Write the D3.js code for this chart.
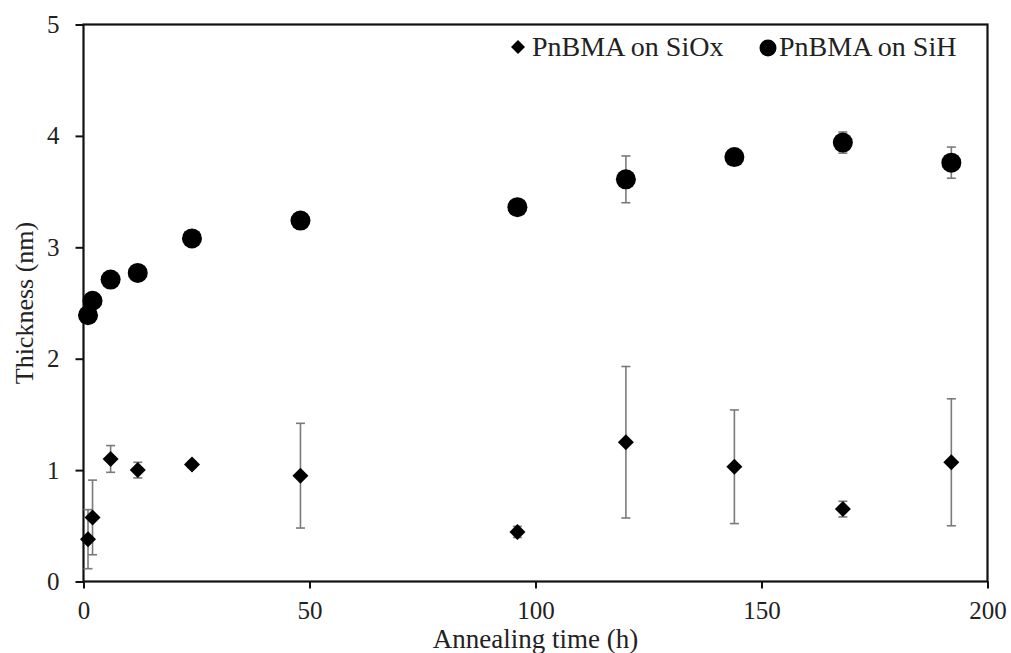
<!DOCTYPE html>
<html>
<head>
<meta charset="utf-8">
<script src="https://cdnjs.cloudflare.com/ajax/libs/d3/7.8.5/d3.min.js"></script>
<style>
	body { margin: 0; background: #fff; }
	text { font-family: "Liberation Serif", "Times New Roman", serif; fill: #222; }
</style>
</head>
<body>
<div class="thegraph"></div>
<script>
// annealing times (h)
var hours = [1, 2, 6, 12, 24, 48, 96, 120, 144, 168, 192];
// PnBMA on SiOx
var siox = [0.38, 0.575, 1.10, 1.00, 1.05, 0.95, 0.445, 1.25, 1.03, 0.65, 1.07];
var sioxErr = [0.265, 0.335, 0.12, 0.07, 0.03, 0.47, 0.05, 0.68, 0.51, 0.07, 0.57];
// PnBMA on SiH
var sih = [2.39, 2.52, 2.71, 2.77, 3.08, 3.24, 3.36, 3.61, 3.81, 3.94, 3.76];
var sihErr = [0.02, 0.02, 0.02, 0.02, 0.03, 0.03, 0.03, 0.21, 0.04, 0.095, 0.14];
var xTicks = [0, 50, 100, 150, 200];
var yTicks = [0, 1, 2, 3, 4, 5];
var seriesNames = ["PnBMA on SiOx", "PnBMA on SiH"];

(function() {
	var w = 1011;
	var h = 653;
	var left = 83.5, right = 987.5, top = 24.5, bottom = 581.5;

	var svg = d3.select(".thegraph").append("svg")
		.attr("width", w)
		.attr("height", h)
		;

	var x = d3.scaleLinear().domain([0, 200]).range([left, right]);
	var y = d3.scaleLinear().domain([0, 5]).range([bottom, top]);

	var xAxis = svg.append("g")
		.attr("transform", "translate(0," + bottom + ")")
		.call(d3.axisBottom(x).tickValues(xTicks).tickFormat(d3.format("d")).tickSize(7).tickPadding(13));
	var yAxis = svg.append("g")
		.attr("transform", "translate(" + left + ",0)")
		.call(d3.axisLeft(y).tickValues(yTicks).tickFormat(d3.format("d")).tickSize(8).tickPadding(16));
	[xAxis, yAxis].forEach(function(a) {
		a.select(".domain").remove();
		a.selectAll("line").attr("stroke", "#111").attr("stroke-width", 2);
		a.selectAll("text")
			.attr("font-family", "Liberation Serif")
			.attr("font-size", "25px")
			.attr("fill", "#222");
	});

	// plot frame
	svg.append("rect")
		.attr("x", left)
		.attr("y", top)
		.attr("width", right - left)
		.attr("height", bottom - top)
		.attr("fill", "none")
		.attr("stroke", "#111")
		.attr("stroke-width", 2.2)
		;

	var series = [
		{ vals: siox, err: sioxErr },
		{ vals: sih, err: sihErr }
	];

	// error bars
	series.forEach(function(s) {
		var g = svg.append("g");
		hours.forEach(function(t, i) {
			var cx = x(t);
			var y1 = y(s.vals[i] + s.err[i]);
			var y2 = y(s.vals[i] - s.err[i]);
			g.append("line").attr("x1", cx).attr("x2", cx).attr("y1", y1).attr("y2", y2);
			g.append("line").attr("x1", cx - 4.5).attr("x2", cx + 4.5).attr("y1", y1).attr("y2", y1);
			g.append("line").attr("x1", cx - 4.5).attr("x2", cx + 4.5).attr("y1", y2).attr("y2", y2);
		});
		g.selectAll("line").attr("stroke", "#7a7a7a").attr("stroke-width", 1.6);
	});

	var diamond = function(cx, cy, r) {
		return "M" + cx + "," + (cy - r) + "L" + (cx + r) + "," + cy +
			"L" + cx + "," + (cy + r) + "L" + (cx - r) + "," + cy + "Z";
	};

	svg.append("g").selectAll("path")
		.data(hours)
		.enter()
		.append("path")
		.attr("d", function(d, i) { return diamond(x(d), y(siox[i]), 8); })
		.attr("fill", "#000")
		;

	svg.append("g").selectAll("circle")
		.data(hours)
		.enter()
		.append("circle")
		.attr("cx", function(d) { return x(d); })
		.attr("cy", function(d, i) { return y(sih[i]); })
		.attr("r", 10)
		.attr("fill", "#000")
		;

	// legend
	var lg = svg.append("g");
	lg.append("path").attr("d", diamond(518, 47, 7)).attr("fill", "#000");
	lg.append("text").attr("x", 532).attr("y", 56).attr("font-size", "28px").text(seriesNames[0]);
	lg.append("circle").attr("cx", 768).attr("cy", 48).attr("r", 8.5).attr("fill", "#000");
	lg.append("text").attr("x", 779).attr("y", 56).attr("font-size", "28px").text(seriesNames[1]);

	// axis titles
	svg.append("text")
		.attr("x", (left + right) / 2)
		.attr("y", 648)
		.attr("text-anchor", "middle")
		.attr("font-size", "27px")
		.text("Annealing time (h)")
		;
	svg.append("text")
		.attr("transform", "translate(33," + ((top + bottom) / 2) + ") rotate(-90)")
		.attr("text-anchor", "middle")
		.attr("font-size", "26px")
		.text("Thickness (nm)")
		;
})();
</script>
</body>
</html>
